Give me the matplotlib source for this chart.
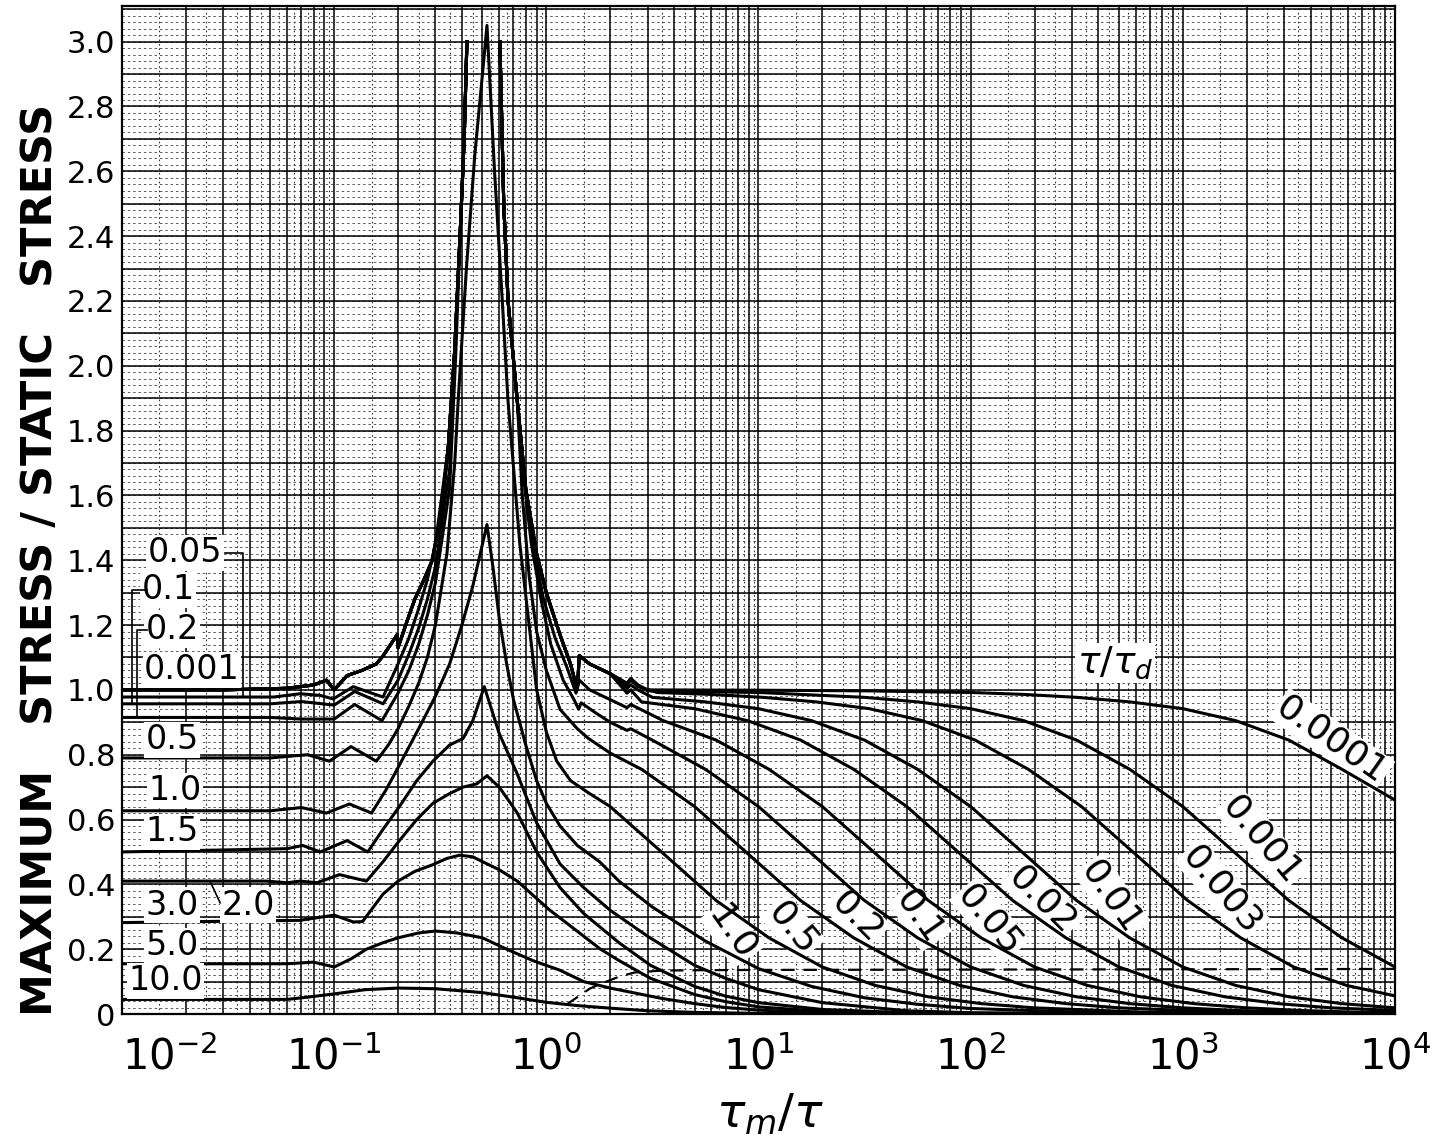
import numpy as np
import matplotlib
matplotlib.use("Agg")
import matplotlib.pyplot as plt

# ---------------- data ----------------
# shared path of the smallest tau/tau_d curves (0.0001 ... 0.02), left of the resonance
x_top_left = [0.01, 0.03, 0.06, 0.08, 0.092, 0.1, 0.115, 0.135, 0.158, 0.17, 0.198, 0.2,
              0.22, 0.24, 0.265, 0.29, 0.32, 0.345, 0.37, 0.395, 0.41, 0.4224]
v_top_left = [1.0, 1.0, 1.005, 1.015, 1.03, 1.0, 1.044, 1.06, 1.08, 1.105, 1.17, 1.13,
              1.21, 1.28, 1.34, 1.40, 1.55, 1.75, 2.05, 2.45, 2.7, 3.0]
# shared path right of the resonance
x_top_right = [0.604, 0.63, 0.66, 0.73, 0.8, 0.9, 1.0, 1.16, 1.3, 1.4, 1.43, 1.6, 2.0]
v_top_right = [3.0, 2.5, 2.2, 1.89, 1.62, 1.42, 1.3, 1.17, 1.08, 1.0, 1.106, 1.08, 1.05]
# tails of those curves
x_tail_00001 = [2.4, 2.5, 2.7, 3, 10, 31.6, 100, 178, 316, 562, 1000, 1778, 3162, 5623, 10000]
v_tail_00001 = [1.02, 1.035, 1.015, 1.0, 0.999, 0.997, 0.992, 0.986, 0.977, 0.963, 0.942,
                0.905, 0.845, 0.755, 0.66]
x_tail_0001 = [2.4, 2.5, 2.7, 3, 10, 31.6, 56.2, 100, 178, 316, 562, 1000, 1778, 3162, 5623,
               10000]
v_tail_0001 = [1.02, 1.035, 1.015, 0.997, 0.992, 0.977, 0.963, 0.942, 0.905, 0.845, 0.755,
               0.64, 0.495, 0.35, 0.235, 0.145]
x_tail_0003 = [2.4, 2.5, 2.7, 3.33, 5.93, 10.5, 18.7, 33.3, 59.3, 105, 187, 333, 593, 1054,
               1874, 3333, 5927, 10000]
v_tail_0003 = [1.015, 1.03, 1.01, 0.992, 0.986, 0.977, 0.963, 0.942, 0.905, 0.845, 0.755,
               0.64, 0.495, 0.35, 0.235, 0.145, 0.088, 0.056]
x_tail_001 = [2.4, 2.5, 2.7, 3.16, 5.62, 10, 17.8, 31.6, 56.2, 100, 178, 316, 562, 1000,
              1778, 3162, 5623, 10000]
v_tail_001 = [1.005, 1.015, 1.0, 0.977, 0.963, 0.942, 0.905, 0.845, 0.755, 0.64, 0.495, 0.35,
              0.235, 0.145, 0.088, 0.053, 0.032, 0.019]
x_tail_002 = [2.4, 2.5, 2.81, 5, 8.89, 15.8, 28.1, 50, 88.9, 158, 281, 500, 889, 1581, 2812,
              5000, 10000]
v_tail_002 = [0.99, 1.0, 0.963, 0.942, 0.905, 0.845, 0.755, 0.64, 0.495, 0.35, 0.235, 0.145,
              0.088, 0.053, 0.032, 0.019, 0.011]

x_005_left = [0.01, 0.052, 0.069, 0.086, 0.099, 0.123, 0.15, 0.17, 0.2, 0.225, 0.25, 0.275,
              0.3, 0.345, 0.37, 0.395, 0.41, 0.4224]
v_005_left = [0.978, 0.978, 0.988, 0.983, 0.972, 1.01, 0.99, 0.978, 1.08, 1.16, 1.25, 1.34,
              1.45, 1.75, 2.05, 2.45, 2.7, 3.0]
x_005_right = [0.604, 0.63, 0.66, 0.73, 0.8, 0.88, 0.97, 1.1, 1.25, 1.38, 1.43, 1.6, 2.0, 2.4,
               2.5, 3.56, 6.32, 11.2, 20, 35.6, 63.2, 112, 200, 356, 632, 1125, 2000, 3557,
               6325, 10000]
v_005_right = [3.0, 2.5, 2.2, 1.89, 1.62, 1.42, 1.28, 1.16, 1.07, 0.99, 1.03, 1.0, 0.97,
               0.945, 0.955, 0.905, 0.845, 0.755, 0.64, 0.495, 0.35, 0.235, 0.145, 0.088,
               0.053, 0.032, 0.019, 0.011, 0.006, 0.004]

x_01_left = [0.01, 0.05, 0.07, 0.1, 0.125, 0.17, 0.2, 0.225, 0.25, 0.275, 0.3, 0.35, 0.37,
             0.395, 0.41, 0.4224]
v_01_left = [0.957, 0.957, 0.964, 0.953, 0.995, 0.957, 1.03, 1.11, 1.19, 1.28, 1.38, 1.68,
             2.05, 2.45, 2.7, 3.0]
x_01_right = [0.604, 0.63, 0.66, 0.73, 0.78, 0.85, 0.95, 1.05, 1.2, 1.35, 1.42, 1.46, 1.7,
              2.0, 2.4, 2.5, 3.16, 5.62, 10, 17.8, 31.6, 56.2, 100, 178, 316, 562, 1000,
              1778, 3162, 10000]
v_01_right = [3.0, 2.5, 2.2, 1.89, 1.66, 1.45, 1.27, 1.14, 1.03, 0.97, 0.94, 0.96, 0.93,
              0.9, 0.875, 0.88, 0.845, 0.755, 0.64, 0.495, 0.35, 0.235, 0.145, 0.088, 0.053,
              0.032, 0.019, 0.011, 0.006, 0.002]

x_02_left = [0.01, 0.05, 0.07, 0.1, 0.125, 0.168, 0.2, 0.225, 0.25, 0.275, 0.3, 0.35, 0.375,
             0.395, 0.41, 0.4224]
v_02_left = [0.915, 0.915, 0.91, 0.91, 0.955, 0.905, 0.99, 1.06, 1.14, 1.23, 1.33, 1.62,
             2.05, 2.45, 2.7, 3.0]
x_02_right = [0.604, 0.63, 0.66, 0.73, 0.77, 0.83, 0.9, 1.0, 1.16, 1.4, 1.58, 2.0, 2.81, 5,
              8.89, 15.8, 28.1, 50, 88.9, 158, 281, 500, 1581, 5000, 10000]
v_02_right = [3.0, 2.5, 2.2, 1.89, 1.6, 1.35, 1.18, 1.06, 0.94, 0.88, 0.85, 0.805, 0.755,
              0.64, 0.495, 0.35, 0.235, 0.145, 0.088, 0.053, 0.032, 0.019, 0.006, 0.002,
              0.001]

x_05 = [0.01, 0.05, 0.075, 0.095, 0.12, 0.158, 0.18, 0.2, 0.225, 0.25, 0.275, 0.3, 0.34,
        0.37, 0.384, 0.42, 0.46, 0.5, 0.525, 0.57, 0.62, 0.66, 0.75, 0.84, 0.9, 1.0, 1.12, 1.3,
        1.6, 2.0, 3.56, 6.32, 11.2, 20, 35.6, 63.2, 112, 200, 632, 2000, 10000]
v_05 = [0.79, 0.79, 0.80, 0.78, 0.825, 0.78, 0.83, 0.88, 0.95, 1.02, 1.1, 1.2, 1.42, 1.7,
        1.89, 2.3, 2.65, 2.9, 3.05, 2.6, 2.2, 1.89, 1.45, 1.17, 1.0, 0.87, 0.78, 0.72, 0.68,
        0.64, 0.495, 0.35, 0.235, 0.145, 0.088, 0.053, 0.032, 0.019, 0.006, 0.002, 0.0]

x_10 = [0.01, 0.05, 0.07, 0.092, 0.118, 0.15, 0.175, 0.2, 0.25, 0.3, 0.35, 0.4, 0.45, 0.5,
        0.525, 0.56, 0.6, 0.65, 0.7, 0.8, 0.9, 1.0, 1.16, 1.4, 1.78, 2.2, 3.16, 5.62, 10,
        17.8, 31.6, 56.2, 100, 316, 1000, 10000]
v_10 = [0.627, 0.627, 0.637, 0.62, 0.648, 0.62, 0.69, 0.76, 0.88, 0.98, 1.08, 1.2, 1.32,
        1.45, 1.51, 1.38, 1.22, 1.08, 0.97, 0.83, 0.72, 0.65, 0.58, 0.52, 0.47, 0.41, 0.33,
        0.225, 0.14, 0.085, 0.05, 0.03, 0.017, 0.006, 0.002, 0.0]

x_15 = [0.01, 0.06, 0.071, 0.086, 0.115, 0.144, 0.17, 0.203, 0.245, 0.292, 0.35, 0.405, 0.45,
        0.51, 0.6, 0.73, 0.9, 1.16, 1.5, 2.0, 3.0, 5, 7, 10, 20, 50, 100, 1000]
v_15 = [0.50, 0.51, 0.52, 0.50, 0.535, 0.50, 0.57, 0.64, 0.72, 0.78, 0.83, 0.85, 0.905,
        1.01, 0.865, 0.74, 0.59, 0.463, 0.39, 0.32, 0.24, 0.15, 0.11, 0.075, 0.035, 0.01,
        0.004, 0.0]

x_20 = [0.01, 0.048, 0.06, 0.069, 0.083, 0.106, 0.142, 0.17, 0.203, 0.245, 0.292, 0.35,
        0.405, 0.47, 0.525, 0.6, 0.73, 0.9, 1.16, 1.5, 2.2, 3.1, 5, 7, 10, 20, 50, 100, 1000]
v_20 = [0.41, 0.41, 0.405, 0.41, 0.405, 0.43, 0.41, 0.47, 0.535, 0.60, 0.65, 0.68, 0.70,
        0.71, 0.735, 0.70, 0.62, 0.5, 0.39, 0.31, 0.22, 0.15, 0.085, 0.055, 0.035, 0.014,
        0.004, 0.001, 0.0]

x_30 = [0.01, 0.069, 0.1, 0.123, 0.136, 0.17, 0.2, 0.24, 0.29, 0.34, 0.39, 0.45, 0.5, 0.6,
        0.73, 0.87, 1.04, 1.25, 1.5, 1.8, 2.2, 3.1, 5, 7, 10, 20, 50, 100, 1000]
v_30 = [0.282, 0.289, 0.305, 0.284, 0.285, 0.37, 0.41, 0.44, 0.46, 0.48, 0.49, 0.485, 0.47,
        0.445, 0.41, 0.365, 0.32, 0.28, 0.24, 0.2, 0.165, 0.11, 0.06, 0.038, 0.022, 0.008,
        0.002, 0.0, 0.0]

x_50 = [0.01, 0.06, 0.08, 0.1, 0.12, 0.142, 0.17, 0.2, 0.25, 0.3, 0.38, 0.5, 0.65, 0.87, 1.16,
        1.5, 2.0, 2.6, 3.5, 5, 7, 10, 20, 50, 1000]
v_50 = [0.155, 0.155, 0.16, 0.145, 0.17, 0.2, 0.22, 0.235, 0.25, 0.256, 0.25, 0.235, 0.2,
        0.164, 0.135, 0.10, 0.08, 0.065, 0.048, 0.032, 0.02, 0.012, 0.004, 0.001, 0.0]

x_100 = [0.01, 0.06, 0.075, 0.1, 0.14, 0.2, 0.3, 0.5, 0.7, 1.0, 1.4, 2, 3, 5, 10, 30, 1000]
v_100 = [0.045, 0.045, 0.052, 0.062, 0.075, 0.08, 0.078, 0.066, 0.052, 0.036, 0.026, 0.018,
         0.01, 0.005, 0.002, 0.0, 0.0]

# dashed curve
x_dash = [1.25, 1.4, 1.6, 1.8, 2.2, 2.6, 3.5, 5, 10, 100, 1000, 10000]
v_dash = [0.03, 0.052, 0.078, 0.093, 0.115, 0.128, 0.134, 0.135, 0.136, 0.137, 0.138, 0.139]

# axis tick labels
y_ticks = [0, 0.2, 0.4, 0.6, 0.8, 1.0, 1.2, 1.4, 1.6, 1.8, 2.0, 2.2, 2.4, 2.6, 2.8, 3.0]
y_ticklabels = ["0", "0.2", "0.4", "0.6", "0.8", "1.0", "1.2", "1.4", "1.6", "1.8", "2.0",
                "2.2", "2.4", "2.6", "2.8", "3.0"]
x_ticks = [1e-2, 1e-1, 1e0, 1e1, 1e2, 1e3, 1e4]
x_ticklabels = [r"$10^{-2}$", r"$10^{-1}$", r"$10^{0}$", r"$10^{1}$", r"$10^{2}$",
                r"$10^{3}$", r"$10^{4}$"]

# curve labels: text, x, y (, rotation)
left_labels = [("0.05", 0.0198, 1.423), ("0.1", 0.0165, 1.309), ("0.2", 0.0172, 1.185),
               ("0.001", 0.0214, 1.062), ("0.5", 0.0172, 0.846), ("1.0", 0.0178, 0.69),
               ("1.5", 0.0172, 0.562), ("3.0", 0.0172, 0.336), ("2.0", 0.0392, 0.336),
               ("5.0", 0.0172, 0.21), ("10.0", 0.0161, 0.102)]
right_labels = [("1.0", 7.49, 0.25, -55), ("0.5", 14.5, 0.265, -50), ("0.2", 29.1, 0.30, -45),
                ("0.1", 57.6, 0.30, -55), ("0.05", 123, 0.29, -50), ("0.02", 219, 0.352, -45),
                ("0.01", 462, 0.361, -55), ("0.003", 1528, 0.383, -50),
                ("0.001", 2356, 0.537, -50), ("0.0001", 5035, 0.846, -35)]

# ---------------- figure ----------------
W, H = 1436, 1147
fig = plt.figure(figsize=(W / 100, H / 100), dpi=100)
ax = fig.add_axes([122 / W, 133 / H, 1273 / W, 1008 / H])
ax.set_xscale("log")
ax.set_xlim(1e-2, 1e4)
ax.set_ylim(0, 3.11)

xt = ax.get_xaxis_transform()
yt = ax.get_yaxis_transform()

# graph paper
major_x, half_x = [], []
for e in range(-2, 4):
    d = 10.0 ** e
    for k in range(1, 10):
        major_x.append(k * d)
        half_x.append((k + 0.5) * d)
ax.vlines(half_x, 0, 1, transform=xt, colors="0.2", lw=0.8, linestyles=(0, (1.5, 2.5)), zorder=1)
ax.vlines(major_x, 0, 1, transform=xt, colors="black", lw=1.1, zorder=2)
fine_y = np.arange(0, 3.11, 0.02)
ax.hlines(fine_y, 0, 1, transform=yt, colors="0.35", lw=0.7, linestyles=(0, (2.5, 3)), zorder=1)
ax.hlines(np.arange(0.1, 3.11, 0.1), 0, 1, transform=yt, colors="black", lw=1.1, zorder=2)

kw = dict(color="black", lw=2.2, zorder=4, solid_joinstyle="round")


def brk(xa, va, xb, vb):
    return list(xa) + [np.nan] + list(xb), list(va) + [np.nan] + list(vb)


for xtl, vtl in [(x_tail_00001, v_tail_00001), (x_tail_0001, v_tail_0001),
                 (x_tail_0003, v_tail_0003), (x_tail_001, v_tail_001),
                 (x_tail_002, v_tail_002)]:
    xs, vs = brk(x_top_left, v_top_left, x_top_right + xtl, v_top_right + vtl)
    ax.plot(xs, vs, **kw)
for xa, va, xb, vb in [(x_005_left, v_005_left, x_005_right, v_005_right),
                       (x_01_left, v_01_left, x_01_right, v_01_right),
                       (x_02_left, v_02_left, x_02_right, v_02_right)]:
    xs, vs = brk(xa, va, xb, vb)
    ax.plot(xs, vs, **kw)
for xs, vs in [(x_05, v_05), (x_10, v_10), (x_15, v_15), (x_20, v_20), (x_30, v_30),
               (x_50, v_50), (x_100, v_100)]:
    ax.plot(xs, vs, **kw)
ax.plot(x_dash, v_dash, color="black", lw=1.6, ls=(0, (6, 4)), zorder=4)

# ticks
ax.set_yticks(y_ticks)
ax.set_yticklabels(y_ticklabels)
ax.set_xticks(x_ticks)
ax.set_xticklabels(x_ticklabels)
ax.minorticks_off()
ax.tick_params(axis="both", length=0)
ax.tick_params(axis="y", labelsize=22, pad=5)
ax.tick_params(axis="x", labelsize=30, pad=16)
ax.get_xticklabels()[0].set_horizontalalignment("left")
for s in ax.spines.values():
    s.set_linewidth(1.6)

# labels (white patch hides the graph paper, curves stay on top)
box = dict(facecolor="white", edgecolor="none", pad=1.0)
for t, x, y in left_labels:
    ax.text(x, y, t, fontsize=24, ha="center", va="center", zorder=5, bbox=box)
for t, x, y, r in right_labels:
    ax.text(x, y, t, fontsize=26, ha="center", va="center", rotation=r, zorder=3, bbox=box,
            rotation_mode="anchor")
ax.text(479, 1.083, r"$\tau/\tau_d$", fontsize=27, ha="center", va="center", zorder=3, bbox=box)

# leader lines for left labels
ax.plot([0.0306, 0.0372, 0.0372], [1.423, 1.423, 0.978], color="black", lw=1.2, zorder=5)
ax.plot([0.0131, 0.0111, 0.0111], [1.309, 1.309, 0.96], color="black", lw=1.2, zorder=5)
ax.plot([0.0131, 0.0118, 0.0118], [1.185, 1.185, 0.917], color="black", lw=1.2, zorder=5)
ax.plot([0.026, 0.029], [0.41, 0.343], color="black", lw=1.2, zorder=5)

fig.text(40 / W, 1 - 560 / H, "MAXIMUM   STRESS / STATIC   STRESS", rotation=90,
         fontsize=31, fontweight="bold", ha="center", va="center")
fig.text(770 / W, 1 - 1115 / H, r"$\tau_m/\tau$", fontsize=34, ha="center", va="center")

fig.savefig("out.png", dpi=100, facecolor="white")
